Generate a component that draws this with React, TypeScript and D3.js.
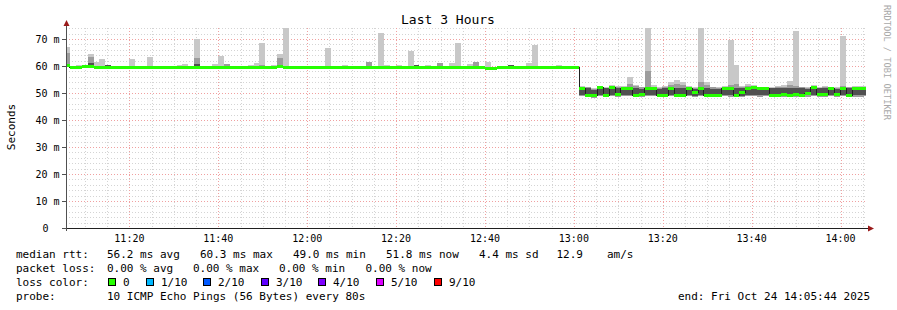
import React from 'react';
import * as d3 from 'd3';

// ---------- data (ms), one entry per 80 s step ----------
const medianMs = [
  60.3, 59.4, 59.3, 59.7, 59.8, 59.4, 59.3, 59.6, 59.5, 59.4,
  59.5, 59.3, 59.4, 59.5, 59.3, 59.5, 59.4, 59.5, 59.4, 59.5,
  59.6, 59.3, 59.6, 59.4, 59.5, 59.3, 59.4, 59.5, 59.3, 59.4,
  59.5, 59.3, 59.4, 59.5, 59.4, 59.5, 59.9, 59.4, 59.3, 59.5,
  59.4, 59.5, 59.4, 59.5, 59.4, 59.5, 59.3, 59.4, 59.5, 59.4,
  59.5, 59.4, 59.5, 59.4, 59.5, 59.3, 59.4, 59.5, 59.3, 59.5,
  59.4, 59.5, 59.4, 59.3, 59.5, 59.4, 59.3, 59.5, 59.4, 59.5,
  59.4, 59.1, 59.2, 59.4, 59.5, 59.4, 59.5, 59.4, 59.5, 59.3,
  59.4, 59.5, 59.4, 59.5, 59.4, 59.5, 59.5,
  51.6, 49.0, 49.0,
  51.9, 49.2, 51.9, 49.5, 51.7, 51.7, 49.2, 49.3, 51.7, 51.7,
  49.2, 49.0, 51.5, 49.0, 49.2, 51.5, 50.3, 51.5, 49.0, 49.1,
  49.0, 51.5, 51.5, 49.0, 50.3, 51.5, 52.0, 51.5, 51.5, 49.2,
  49.2, 49.4, 49.2, 49.3, 49.2, 50.0, 52.0, 49.3, 49.3, 51.5,
  49.5, 51.5, 49.2, 51.5, 51.5, 51.8,
];

const maxMs = [
  67.1, 59.9, 60.4, 60.1, 64.6, 61.4, 62.6, 60.4, 59.9, 59.8,
  60.0, 62.6, 59.9, 60.0, 63.3, 59.9, 59.8, 60.1, 59.9, 60.4,
  60.8, 59.9, 70.0, 59.9, 59.9, 60.8, 63.8, 60.8, 59.8, 59.9,
  59.8, 60.4, 61.2, 68.6, 59.9, 60.2, 64.6, 74.2, 59.9, 60.1,
  59.8, 59.9, 59.8, 59.9, 66.7, 59.9, 59.8, 60.3, 59.9, 59.8,
  59.9, 61.5, 59.9, 72.3, 60.2, 59.8, 60.2, 59.9, 65.7, 60.3,
  59.9, 60.2, 59.8, 61.0, 59.9, 61.1, 68.5, 60.0, 60.6, 61.5,
  59.9, 61.3, 59.8, 59.9, 59.9, 60.2, 59.9, 59.8, 61.0, 67.8,
  60.0, 59.9, 59.8, 60.2, 59.9, 60.1, 59.9,
  52.5, 52.4, 51.8,
  52.6, 52.3, 52.9, 52.5, 52.6, 56.0, 53.0, 52.4, 74.2, 52.8,
  52.2, 52.6, 54.0, 54.8, 54.0, 52.6, 52.3, 74.2, 54.0, 52.4,
  52.2, 52.6, 69.6, 60.4, 52.5, 53.3, 52.8, 52.4, 52.3, 52.3,
  52.5, 52.8, 54.3, 73.0, 52.4, 52.2, 52.8, 52.3, 52.6, 52.4,
  52.3, 71.0, 52.4, 52.6, 52.6, 52.5,
];

const p90Ms = [
  65.0, 59.7, 59.7, 59.9, 63.2, 59.7, 59.7, 60.4, 59.7, 59.6,
  59.7, 59.6, 59.7, 59.7, 59.6, 59.7, 59.6, 59.9, 59.6, 59.7,
  59.8, 59.6, 63.0, 59.6, 59.7, 59.6, 59.7, 60.6, 59.6, 59.6,
  59.7, 59.6, 59.7, 60.5, 59.6, 59.7, 63.0, 59.7, 59.6, 59.8,
  59.6, 59.7, 59.6, 59.7, 59.7, 59.7, 59.6, 59.7, 59.7, 59.6,
  59.7, 61.5, 59.7, 59.7, 59.8, 59.6, 59.7, 59.7, 59.7, 60.3,
  59.6, 59.8, 59.6, 61.0, 59.7, 59.7, 59.6, 59.7, 59.7, 61.5,
  59.6, 59.4, 59.5, 59.6, 59.7, 60.2, 59.7, 59.6, 59.7, 59.6,
  59.6, 59.7, 59.6, 59.8, 59.6, 59.7, 59.7,
  52.2, 52.1, 51.6,
  52.3, 52.0, 52.4, 52.1, 52.3, 53.2, 52.6, 52.1, 58.0, 52.4,
  52.0, 52.2, 53.0, 53.2, 52.8, 52.3, 52.0, 54.0, 52.8, 52.1,
  52.0, 52.3, 53.0, 53.2, 52.2, 52.6, 52.5, 52.1, 52.0, 52.0,
  52.2, 52.4, 52.8, 52.5, 52.1, 52.0, 52.5, 52.0, 52.3, 52.1,
  52.0, 52.5, 52.1, 52.3, 52.3, 52.2,
];

const q3Ms = [
  60.6, 59.5, 59.4, 59.8, 61.2, 59.5, 59.4, 60.4, 59.6, 59.5,
  59.6, 59.4, 59.5, 59.6, 59.4, 59.6, 59.5, 59.6, 59.5, 59.6,
  59.7, 59.4, 60.7, 59.5, 59.6, 59.4, 59.5, 59.6, 59.4, 59.5,
  59.6, 59.4, 59.5, 59.6, 59.5, 59.6, 60.4, 59.5, 59.4, 59.6,
  59.5, 59.6, 59.5, 59.6, 59.5, 59.6, 59.4, 59.5, 59.6, 59.5,
  59.6, 59.5, 59.6, 59.5, 59.6, 59.4, 59.5, 59.6, 59.4, 60.3,
  59.5, 59.6, 59.5, 59.4, 59.6, 59.5, 59.4, 59.6, 59.5, 59.6,
  59.5, 59.2, 59.3, 59.5, 59.6, 60.2, 59.6, 59.5, 59.6, 59.4,
  59.5, 59.6, 59.5, 59.6, 59.5, 59.6, 59.6,
  51.9, 51.8, 51.0,
  52.0, 51.7, 52.1, 51.8, 52.0, 51.9, 51.8, 51.6, 52.0, 51.9,
  51.6, 51.8, 51.8, 51.7, 51.8, 51.9, 51.6, 51.9, 51.7, 51.6,
  51.5, 51.9, 51.9, 51.8, 51.8, 51.9, 52.2, 51.8, 51.9, 51.7,
  51.8, 51.9, 51.8, 51.8, 51.7, 51.6, 52.2, 51.7, 51.8, 51.9,
  51.6, 51.9, 51.8, 51.9, 51.9, 52.0,
];

const q1Ms = [
  60.1, 59.2, 59.1, 59.5, 59.6, 59.2, 59.1, 59.4, 59.3, 59.2,
  59.3, 59.1, 59.2, 59.3, 59.1, 59.3, 59.2, 59.3, 59.2, 59.3,
  59.4, 59.1, 59.4, 59.2, 59.3, 59.1, 59.2, 59.3, 59.1, 59.2,
  59.3, 59.1, 59.2, 59.3, 59.2, 59.3, 59.7, 59.2, 59.1, 59.3,
  59.2, 59.3, 59.2, 59.3, 59.2, 59.3, 59.1, 59.2, 59.3, 59.2,
  59.3, 59.2, 59.3, 59.2, 59.3, 59.1, 59.2, 59.3, 59.1, 59.3,
  59.2, 59.3, 59.2, 59.1, 59.3, 59.2, 59.1, 59.3, 59.2, 59.3,
  59.2, 58.9, 59.0, 59.2, 59.3, 59.2, 59.3, 59.2, 59.3, 59.1,
  59.2, 59.3, 59.2, 59.3, 59.2, 59.3, 59.3,
  49.2, 48.8, 48.7,
  49.3, 48.9, 49.4, 49.1, 49.2, 49.3, 48.9, 49.0, 49.3, 49.2,
  48.9, 48.8, 49.2, 48.8, 48.9, 49.2, 49.0, 49.2, 48.8, 48.9,
  48.8, 49.2, 49.1, 48.8, 49.0, 49.2, 49.4, 49.1, 49.2, 48.9,
  48.9, 49.0, 48.9, 49.0, 48.9, 49.1, 49.4, 49.0, 49.0, 49.2,
  49.1, 49.2, 48.9, 49.1, 49.1, 49.3,
];

const minMs = [
  59.9, 59.0, 58.9, 59.3, 59.4, 59.0, 58.9, 59.2, 59.1, 59.0,
  59.1, 58.9, 59.0, 59.1, 58.9, 59.1, 59.0, 59.1, 59.0, 59.1,
  59.2, 58.9, 59.2, 59.0, 59.1, 58.9, 59.0, 59.1, 58.9, 59.0,
  59.1, 58.9, 59.0, 59.1, 59.0, 59.1, 59.5, 59.0, 58.9, 59.1,
  59.0, 59.1, 59.0, 59.1, 59.0, 59.1, 58.9, 59.0, 59.1, 59.0,
  59.1, 59.0, 59.1, 59.0, 59.1, 58.9, 59.0, 59.1, 58.9, 59.1,
  59.0, 59.1, 59.0, 58.9, 59.1, 59.0, 58.9, 59.1, 59.0, 59.1,
  59.0, 58.7, 58.8, 59.0, 59.1, 59.0, 59.1, 59.0, 59.1, 58.9,
  59.0, 59.1, 59.0, 59.1, 59.0, 59.1, 59.1,
  48.8, 48.4, 48.3,
  48.9, 48.5, 49.0, 48.7, 48.8, 48.9, 48.5, 48.6, 48.9, 48.8,
  48.5, 48.4, 48.8, 48.4, 48.5, 48.8, 48.6, 48.8, 48.4, 48.5,
  48.4, 48.8, 48.7, 48.4, 48.6, 48.8, 49.0, 48.7, 48.8, 48.5,
  48.5, 48.6, 48.5, 48.6, 48.5, 48.7, 49.0, 48.6, 48.6, 48.8,
  48.7, 48.8, 48.5, 48.7, 48.7, 48.9,
];

const yTickValues = [0, 10, 20, 30, 40, 50, 60, 70];
const yTickLabels = ['0', '10 m', '20 m', '30 m', '40 m', '50 m', '60 m', '70 m'];
const xTickLabels = ['11:20', '11:40', '12:00', '12:20', '12:40', '13:00', '13:20', '13:40', '14:00'];

const lossLabels = ['0', '1/10', '2/10', '3/10', '4/10', '5/10', '9/10'];
const lossColors = ['#26ff00', '#00b8ff', '#0059ff', '#5e00ff', '#7e00ff', '#dd00ff', '#ff0000'];

const titleText = 'Last 3 Hours';
const yAxisTitle = 'Seconds';
const sideText = 'RRDTOOL / TOBI OETIKER';

// ---------- layout ----------
const W = 897;
const H = 310;
const X0 = 66;
const X1 = 866;
const Y0 = 228;
const Y1 = 28;
const STEP = 80; // seconds
const START = new Date(2025, 9, 24, 11, 5, 44);
const END = new Date(2025, 9, 24, 14, 5, 44);
const FIRST_BAR = new Date(START.getTime() - 28 * 1000);

const MONO = "'DejaVu Sans Mono', monospace";

export default function App() {
  const x = d3.scaleTime().domain([START, END]).range([X0, X1]);
  const y = d3.scaleLinear().domain([0, 200 / 2.7]).range([Y0, Y1]);

  const barStart = (i: number) => new Date(FIRST_BAR.getTime() + i * STEP * 1000);
  const bars = medianMs.map((m, i) => {
    const xa = x(barStart(i));
    const xb = x(barStart(i + 1));
    return { i, xa, xb, m };
  });

  const minor5 = d3.timeMinute.every(5)!.range(START, END);
  const majorTimes = xTickLabels.map((l) => {
    const [h, mm] = l.split(':').map(Number);
    return new Date(2025, 9, 24, h, mm, 0);
  });
  const majorSet = new Set(majorTimes.map((d) => d.getTime()));

  const yMinor = d3.range(2, 75, 2).filter((v) => v % 10 !== 0);

  const medPts: [number, number][] = bars.map((b) => [b.xa, y(b.m)]);
  medPts.push([bars[bars.length - 1].xb, y(medianMs[medianMs.length - 1])]);
  const stepLine = d3.line().curve(d3.curveStepAfter)(medPts) || '';

  const rect = (key: string, xa: number, xb: number, lo: number, hi: number, fill: string) => {
    const ya = y(hi);
    const yb = y(lo);
    if (yb - ya <= 0) return null;
    return <rect key={key} x={xa} y={ya} width={xb - xa} height={yb - ya} fill={fill} shapeRendering="crispEdges" />;
  };

  const legendBaselines = [258, 272, 286, 300];

  const lossX = [108, 146, 203, 261, 318, 376, 434];

  return (
    <svg width={W} height={H} style={{ position: 'absolute', left: 0, top: 0, background: '#fff' }}
      xmlns="http://www.w3.org/2000/svg">
      <rect x={0} y={0} width={W} height={H} fill="#ffffff" />
      <defs>
        <clipPath id="plot">
          <rect x={X0} y={Y1} width={X1 - X0} height={Y0 - Y1} />
        </clipPath>
      </defs>

      {/* title */}
      <text x={448} y={24} fontFamily={MONO} fontSize={13} textAnchor="middle" fill="#000">{titleText}</text>

      {/* side text */}
      <text transform="translate(884,5) rotate(90)" fontFamily={MONO} fontSize={8.7} fill="#a8a8a8">{sideText}</text>

      {/* y axis title */}
      <text transform="translate(15,127) rotate(-90)" fontFamily={MONO} fontSize={11} textAnchor="middle" fill="#000">{yAxisTitle}</text>

      {/* grid */}
      <g shapeRendering="crispEdges">
        {yMinor.map((v) => (
          <line key={'ym' + v} x1={X0} x2={X1} y1={Math.round(y(v)) + 0.5} y2={Math.round(y(v)) + 0.5}
            stroke="#d4d4d4" strokeDasharray="1,2" />
        ))}
        {minor5.filter((d) => !majorSet.has(d.getTime())).map((d) => (
          <line key={'xm' + d.getTime()} x1={Math.round(x(d)) + 0.5} x2={Math.round(x(d)) + 0.5} y1={Y1} y2={Y0}
            stroke="#d4d4d4" strokeDasharray="1,2" />
        ))}
        {yTickValues.filter((v) => v > 0).map((v) => (
          <line key={'yM' + v} x1={X0} x2={X1} y1={Math.round(y(v)) + 0.5} y2={Math.round(y(v)) + 0.5}
            stroke="#f0a0a0" strokeDasharray="1,2" />
        ))}
        {majorTimes.map((d) => (
          <line key={'xM' + d.getTime()} x1={Math.round(x(d)) + 0.5} x2={Math.round(x(d)) + 0.5} y1={Y1} y2={Y0}
            stroke="#f0a0a0" strokeDasharray="1,2" />
        ))}
      </g>

      {/* smoke */}
      <g clipPath="url(#plot)">
        {bars.map((b) => rect('l' + b.i, b.xa, b.xb, minMs[b.i], maxMs[b.i], '#c8c8c8'))}
        {bars.map((b) => rect('m' + b.i, b.xa, b.xb, minMs[b.i], p90Ms[b.i], '#9c9c9c'))}
        {bars.map((b) => rect('d' + b.i, b.xa, b.xb, q1Ms[b.i], q3Ms[b.i], '#505050'))}
        <path d={stepLine} fill="none" stroke="#202020" strokeWidth={1} shapeRendering="crispEdges" />
        {bars.map((b) => (
          <rect key={'g' + b.i} x={b.xa} y={y(b.m) - 1.5} width={b.xb - b.xa} height={3}
            fill={lossColors[0]} shapeRendering="crispEdges" />
        ))}
      </g>

      {/* axes */}
      <g shapeRendering="crispEdges">
        <line x1={62} x2={869} y1={Y0 + 0.5} y2={Y0 + 0.5} stroke="#202020" />
        <line x1={X0 + 0.5} x2={X0 + 0.5} y1={Y0 + 3} y2={25} stroke="#505050" />
        {yTickValues.map((v) => (
          <line key={'yt' + v} x1={62} x2={X0} y1={Math.round(y(v)) + 0.5} y2={Math.round(y(v)) + 0.5} stroke="#505050" />
        ))}
      </g>
      <path d={`M${X0 + 0.5 - 3},${26} L${X0 + 0.5 + 3},${26} L${X0 + 0.5},${20} Z`} fill="#9a1a1a" />
      <path d={`M868,${Y0 + 0.5 - 3} L868,${Y0 + 0.5 + 3} L874,${Y0 + 0.5} Z`} fill="#9a1a1a" />

      {/* y tick labels */}
      {yTickValues.map((v, i) => (
        <text key={'yl' + v} x={v === 0 ? 42.5 : 59.5} y={y(v) + 3.5} fontFamily={MONO} fontSize={10}
          textAnchor={v === 0 ? 'start' : 'end'} fill="#000">{yTickLabels[i]}</text>
      ))}

      {/* x tick labels */}
      {majorTimes.map((d, i) => (
        <text key={'xl' + i} x={x(d)} y={241.5} fontFamily={MONO} fontSize={10} textAnchor="middle" fill="#000">
          {xTickLabels[i]}
        </text>
      ))}

      {/* legend */}
      <g fontFamily={MONO} fontSize={11} fill="#000">
        <text x={16} y={legendBaselines[0]}>median rtt:</text>
        <text x={107} y={legendBaselines[0]}>56.2 ms avg</text>
        <text x={200} y={legendBaselines[0]}>60.3 ms max</text>
        <text x={293} y={legendBaselines[0]}>49.0 ms min</text>
        <text x={386} y={legendBaselines[0]}>51.8 ms now</text>
        <text x={479} y={legendBaselines[0]}>4.4 ms sd</text>
        <text x={556.5} y={legendBaselines[0]}>12.9</text>
        <text x={607} y={legendBaselines[0]}>am/s</text>

        <text x={16} y={legendBaselines[1]}>packet loss:</text>
        <text x={107} y={legendBaselines[1]}>0.00 % avg</text>
        <text x={193} y={legendBaselines[1]}>0.00 % max</text>
        <text x={279} y={legendBaselines[1]}>0.00 % min</text>
        <text x={365.5} y={legendBaselines[1]}>0.00 % now</text>

        <text x={16} y={legendBaselines[2]}>loss color:</text>
        {lossLabels.map((l, i) => (
          <g key={'lc' + i}>
            <rect x={lossX[i] + 0.5} y={278.5} width={7} height={7} fill={lossColors[i]} stroke="#000" strokeWidth={1}
              shapeRendering="crispEdges" />
            <text x={lossX[i] + 15} y={legendBaselines[2]}>{l}</text>
          </g>
        ))}

        <text x={16} y={legendBaselines[3]}>probe:</text>
        <text x={107} y={legendBaselines[3]}>10 ICMP Echo Pings (56 Bytes) every 80s</text>
        <text x={678} y={legendBaselines[3]}>end: Fri Oct 24 14:05:44 2025</text>
      </g>
    </svg>
  );
}
